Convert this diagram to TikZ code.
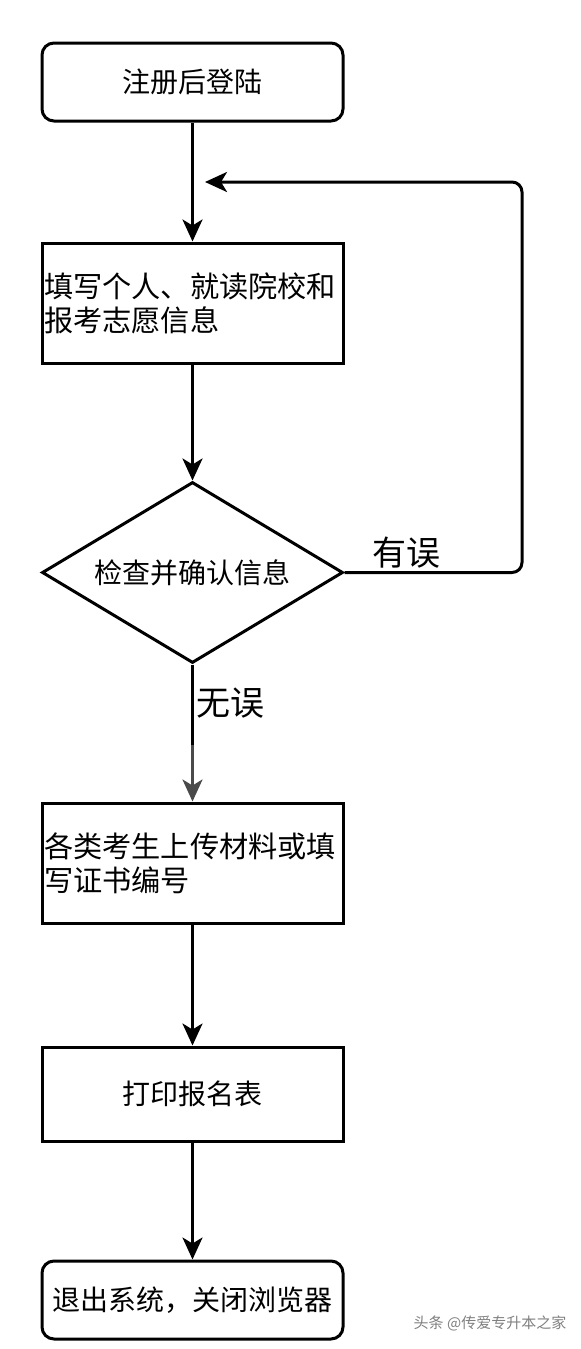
\documentclass[tikz,border=0pt]{standalone}
\usepackage{fontspec}
\setmainfont{Noto Sans CJK SC}
\usetikzlibrary{arrows.meta,shapes.geometric}
\definecolor{fadegray}{HTML}{4A4A4A}

\begin{document}
\begin{tikzpicture}[x=0.5pt,y=-0.5pt,
    box/.style={draw,line width=1.5pt,minimum width=150.5pt,inner sep=0pt,font=\fontsize{14pt}{17pt}\selectfont},
    roundbox/.style={box,rounded corners=6pt},
    textbox/.style={box,align=left,text width=148.5pt,font=\fontsize{14.6pt}{17pt}\selectfont},
    decision/.style={diamond,draw,line width=1.5pt,minimum width=150.5pt,minimum height=90.5pt,inner sep=0pt,aspect=1.66,font=\fontsize{14pt}{17pt}\selectfont},
    line/.style={line width=1.5pt},
    arr/.style={line,-{Stealth[length=11pt,width=10pt,inset=3pt]}},
    lbl/.style={font=\fontsize{17pt}{17pt}\selectfont}]
    \useasboundingbox (0,0) rectangle (580,1349);

    \node (start) at (192.5,82) [roundbox,minimum height=39pt] {注册后登陆};
    \node (fill) at (192.5,303) [textbox,minimum height=60pt] {填写个人、就读院校和\\报考志愿信息};
    \node (check) at (192.5,572.5) [decision] {检查并确认信息};
    \node (upload) at (192.5,863) [textbox,minimum height=60pt] {各类考生上传材料或填\\写证书编号};
    \node (print) at (192.5,1094) [box,minimum height=47pt] {打印报名表};
    \node (quit) at (192.5,1300) [roundbox,minimum height=39pt] {退出系统，关闭浏览器};

    \coordinate (back) at (205,182);
    \coordinate (fade) at (192.5,745);

    \draw[arr] (start) -- (fill);
    \draw[arr] (fill) -- (check);
    \draw[line] (check.south) -- (fade);
    \draw[arr,fadegray] (fade) -- (upload);
    \draw[arr] (upload) -- (print);
    \draw[arr] (print) -- (quit);
    \draw[arr,rounded corners=5pt] (check.east) -- (522,572.5) -- (522,182) -- (back);

    \node (err) at (406,553) [lbl] {有误};
    \node (ok) at (230,703) [lbl] {无误};

    \node (mark) at (490,1323) [font=\fontsize{7.5pt}{7.5pt}\selectfont,text=gray] {头条 @传爱专升本之家};
\end{tikzpicture}
\end{document}
